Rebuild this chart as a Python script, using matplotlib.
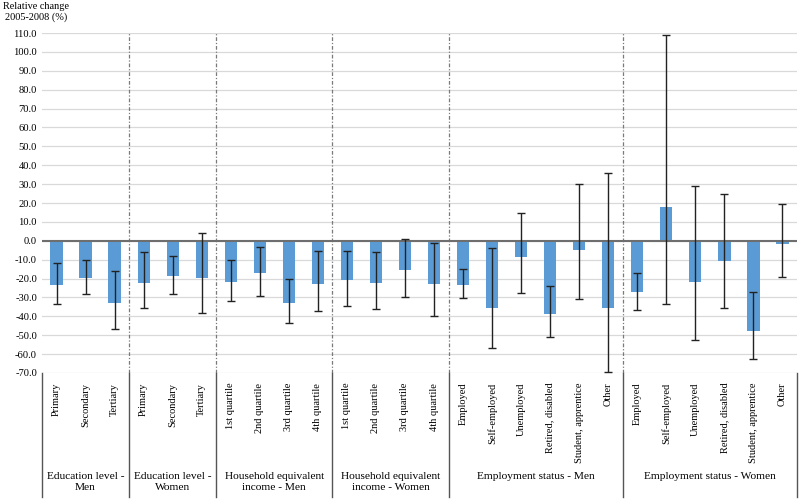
import matplotlib
matplotlib.use("Agg")
import matplotlib.pyplot as plt
import matplotlib.transforms as mtransforms
import numpy as np

plt.rcParams['font.family'] = ['Liberation Serif', 'DejaVu Serif']

groups = ["Education level -\nMen", "Education level -\nWomen",
          "Household equivalent\nincome - Men", "Household equivalent\nincome - Women",
          "Employment status - Men", "Employment status - Women"]
group_sizes = [3, 3, 4, 4, 6, 6]
categories = ["Primary", "Secondary", "Tertiary",
              "Primary", "Secondary", "Tertiary",
              "1st quartile", "2nd quartile", "3rd quartile", "4th quartile",
              "1st quartile", "2nd quartile", "3rd quartile", "4th quartile",
              "Employed", "Self-employed", "Unemployed", "Retired, disabled", "Student, apprentice", "Other",
              "Employed", "Self-employed", "Unemployed", "Retired, disabled", "Student, apprentice", "Other"]
values = [-23.4, -19.7, -32.9,
          -22.2, -18.6, -19.5,
          -21.6, -17.2, -32.9, -22.7,
          -20.9, -22.5, -15.6, -22.7,
          -23.2, -35.4, -8.8, -38.9, -5.1, -35.4,
          -27.3, 17.7, -21.6, -10.5, -47.8, -1.9]
ci_low = [-33.6, -28.0, -46.5,
          -35.7, -28.3, -38.0,
          -31.9, -29.2, -43.5, -37.0,
          -34.3, -35.9, -29.9, -39.6,
          -30.5, -56.6, -27.6, -51.1, -30.6, -69.3,
          -36.8, -33.5, -52.5, -35.7, -62.6, -19.3]
ci_high = [-11.9, -10.3, -15.8,
           -6.1, -7.9, 4.1,
           -10.3, -3.3, -20.4, -5.4,
           -5.4, -6.1, 1.1, -1.3,
           -14.9, -4.0, 14.7, -23.8, 29.9, 35.8,
           -16.9, 108.9, 28.8, 24.8, -27.3, 19.5]
yticks = list(range(-70, 111, 10))

W, H = 800, 501
fig = plt.figure(figsize=(W / 100, H / 100), dpi=100)
left, right, top, bottom = 42, 797, 33, 373
ax = fig.add_axes([left / W, 1 - bottom / H, (right - left) / W, (bottom - top) / H])

x = np.arange(len(categories))
vals = np.array(values)
lo = vals - np.array(ci_low)
hi = np.array(ci_high) - vals

ax.set_axisbelow(True)
ax.bar(x, vals, width=0.42, color='#5B9BD5', zorder=2)
ax.axhline(0, color='#6e6e6e', lw=1.5, zorder=3)
ax.errorbar(x, vals, yerr=[lo, hi], fmt='none', ecolor='#222222', elinewidth=1.0,
            capsize=2.6, capthick=1.0, zorder=4)

ax.set_xlim(-0.5, len(categories) - 0.5)
ax.set_ylim(-70, 110)
ax.set_yticks(yticks)
ax.set_yticklabels([f"{t:.1f}" for t in yticks], fontsize=7.6)
ax.yaxis.grid(True, color='#d9d9d9', lw=0.9)
ax.tick_params(axis='y', length=0, pad=3.6)
for s in ax.spines.values():
    s.set_visible(False)

ax.set_xticks(x)
ax.set_xticklabels(categories, rotation=90, fontsize=7.5, va='top')
ax.tick_params(axis='x', length=0, pad=7)

# group separators
bounds = np.concatenate([[0], np.cumsum(group_sizes)]) - 0.5
trans = mtransforms.blended_transform_factory(ax.transData, ax.transAxes)
hpx = bottom - top
for i, b in enumerate(bounds):
    if 0 < i < len(bounds) - 1:
        ax.axvline(b, color='#7a7a7a', lw=0.9, ls=(0, (3, 1.5, 1, 1.5)), zorder=1)
    ax.plot([b, b], [0, -124 / hpx], transform=trans, color='#555555',
            lw=1.0, clip_on=False)
for i, g in enumerate(groups):
    c = (bounds[i] + bounds[i + 1]) / 2
    ax.text(c, -99 / hpx, g, transform=trans, ha='center', va='top',
            fontsize=8.2, linespacing=1.25)

fig.text(36 / W, 1 - 2 / H, "Relative change\n2005-2008 (%)", ha='center', va='top',
         fontsize=7.4, linespacing=1.25)

fig.savefig("out.png", dpi=100)
